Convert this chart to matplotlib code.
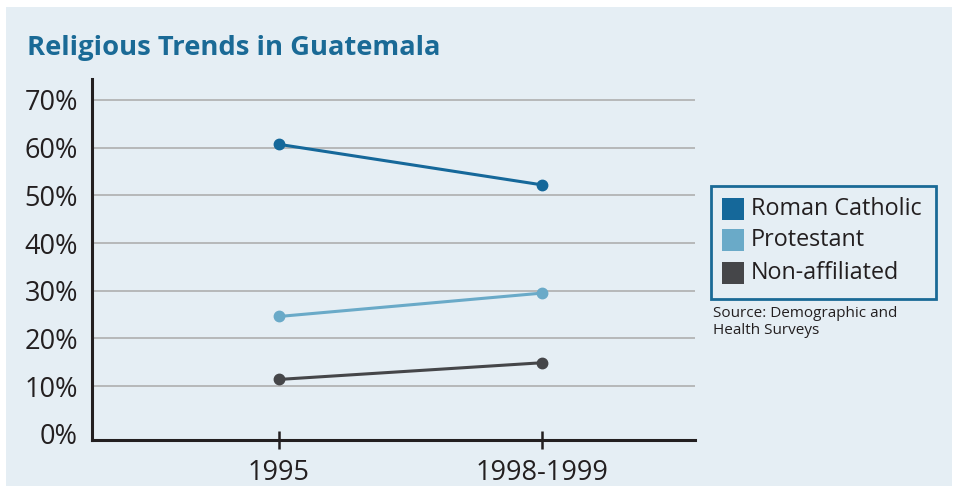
import matplotlib
matplotlib.use("Agg")
import matplotlib.pyplot as plt
from matplotlib.patches import Rectangle

periods = ["1995", "1998-1999"]
series_names = ["Roman Catholic", "Protestant", "Non-affiliated"]
roman_catholic = [60.7, 52.2]
protestant = [24.6, 29.5]
non_affiliated = [11.4, 14.9]
y_ticks = [0, 10, 20, 30, 40, 50, 60, 70]
y_labels = [f"{v}%" for v in y_ticks]
title = "Religious Trends in Guatemala"
source = "Source: Demographic and\nHealth Surveys"

colors = ["#15689a", "#6aaac8", "#454649"]
bg = "#e5eef4"
plt.rcParams['font.family'] = ['Open Sans', 'DejaVu Sans']

W, H = 959, 493
fig = plt.figure(figsize=(W / 100, H / 100), dpi=100)
fig.patch.set_facecolor("white")
fig.patches.append(Rectangle((6 / W, 1 - 486 / H), 946 / W, 479 / H,
                             transform=fig.transFigure, facecolor=bg,
                             edgecolor="none", zorder=-10))

def fx(px):
    return px / W

def fy(py):
    return 1 - py / H

ax = fig.add_axes([fx(92), fy(440), (695 - 92) / W, (440 - 79) / H])
ax.set_zorder(5)
ax.set_facecolor("none")
xs = list(range(len(periods)))
for vals, c in zip([roman_catholic, protestant, non_affiliated], colors):
    ax.plot(xs, vals, color=c, lw=2.2, marker="o", ms=7.5, zorder=3,
            solid_capstyle="round", clip_on=False)

ax.set_xlim(-0.711, 1.582)
ax.set_ylim(-1.3, 74.4)
for v in y_ticks[1:]:
    ax.axhline(v, color="#a9a9a9", lw=1.1, zorder=1)
ax.set_yticks(y_ticks)
ax.set_yticklabels(y_labels, fontsize=19.5, color="#231f20")
ax.tick_params(axis="y", length=0, pad=10)
ax.set_xticks(xs)
ax.set_xticklabels(periods, fontsize=19.5, color="#231f20")
ax.tick_params(axis="x", direction="inout", length=13, width=1.8,
               color="#231f20", pad=7)
for s in ["top", "right"]:
    ax.spines[s].set_visible(False)
for s in ["left", "bottom"]:
    ax.spines[s].set_color("#231f20")
    ax.spines[s].set_linewidth(2.2)

fig.text(fx(27), fy(48), title, fontsize=19.7, fontweight="bold",
         color="#1a6a96", va="center", ha="left")

# legend box
fig.patches.append(Rectangle((fx(711), fy(299)), (936 - 711) / W, (299 - 186) / H,
                             transform=fig.transFigure, facecolor="none",
                             edgecolor="#1a6a96", lw=2, zorder=2))
row_y = [209, 240, 273]
for name, c, ry in zip(series_names, colors, row_y):
    fig.patches.append(Rectangle((fx(722), fy(ry + 11)), 22 / W, 22 / H,
                                 transform=fig.transFigure, facecolor=c,
                                 edgecolor="none", zorder=3))
    fig.text(fx(751), fy(ry), name, fontsize=16.8, color="#231f20",
             va="center", ha="left")

fig.text(fx(713), fy(322), source, fontsize=11, color="#231f20",
         va="center", ha="left", linespacing=1.2)

fig.savefig("out.png", dpi=100, facecolor=fig.get_facecolor())
